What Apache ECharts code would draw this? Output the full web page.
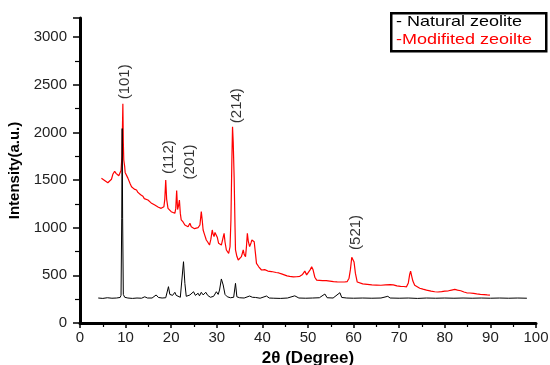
<!DOCTYPE html>
<html>
<head>
<meta charset="utf-8">
<script src="https://cdn.jsdelivr.net/npm/echarts@6/dist/echarts.min.js"></script>
<style>html,body{margin:0;padding:0;background:#fff}#c{width:550px;height:365px}</style>
</head>
<body>
<div id="c"></div>
<script>
// Natural zeolite (black)
const naturalAngle = [4.0,5.0,6.0,7.0,8.0,8.8,9.0,9.15,9.25,9.35,9.5,9.8,10.5,11.5,12.5,13.5,14.2,14.8,15.8,16.7,17.2,18.0,18.8,19.4,19.7,20.0,20.3,20.8,21.1,21.5,22.0,22.4,22.7,23.0,23.3,23.7,24.1,24.5,24.9,25.3,25.9,26.2,26.6,27.0,27.6,28.0,28.6,29.3,29.9,30.3,30.6,31.0,31.4,31.8,32.3,33.0,33.7,34.1,34.4,35.0,36.0,37.2,37.8,38.5,39.5,40.9,41.5,42.5,44.0,45.5,47.1,48.0,49.5,51.0,52.5,53.7,54.2,55.5,57.0,57.4,58.5,60.0,62.0,64.0,66.0,67.5,68.0,70.0,72.0,74.0,76.0,78.0,80.0,82.0,84.0,86.0,88.0,90.0,92.0,94.0,96.0,98.0];
const naturalIntensity = [262,258,265,260,262,268,290,1100,2040,1100,300,270,262,258,262,260,275,262,262,294,268,262,265,381,300,312,290,322,290,283,270,290,643,416,280,270,294,275,328,290,312,285,322,295,322,290,270,280,328,300,346,462,399,300,275,265,270,416,275,265,262,283,270,268,260,283,262,260,258,262,285,262,260,262,265,304,265,262,318,268,262,260,262,260,262,280,262,260,262,258,262,260,262,260,262,260,262,260,262,260,262,260];

// Modified zeolite (red)
const modifiedAngle = [4.7,5.0,5.4,5.7,6.1,6.4,6.9,7.2,7.6,7.9,8.2,8.5,8.8,9.0,9.2,9.4,9.5,9.6,9.8,9.9,10.2,10.5,10.8,11.0,11.3,11.6,11.9,12.2,12.4,12.7,13.0,13.3,13.5,13.8,14.1,14.5,14.9,15.2,15.6,16.0,16.4,16.8,17.2,17.5,17.8,18.1,18.4,18.6,18.8,19.0,19.3,19.6,20.0,20.4,20.8,21.0,21.2,21.4,21.6,21.8,22.0,22.2,22.6,23.0,23.4,23.7,24.1,24.4,24.8,25.1,25.5,25.9,26.3,26.6,26.8,27.0,27.3,27.7,28.0,28.4,28.7,29.0,29.2,29.4,29.6,29.9,30.1,30.4,30.7,31.0,31.3,31.6,31.8,32.1,32.6,32.9,33.1,33.3,33.45,33.6,33.8,34.0,34.1,34.4,34.7,35.0,35.4,35.8,36.0,36.3,36.5,36.7,36.9,37.2,37.5,37.7,38.0,38.2,38.5,38.7,39.2,39.8,40.5,41.2,42.0,42.4,43.0,43.6,44.2,44.8,45.4,46.0,46.8,47.5,48.2,48.8,49.3,49.7,50.1,50.5,50.8,51.1,51.5,51.9,52.5,53.2,54.0,54.8,55.6,56.4,57.2,58.0,58.6,59.0,59.3,59.6,59.8,60.1,60.4,60.8,61.2,62.0,63.0,64.0,65.0,66.0,67.0,68.0,68.7,69.5,70.3,71.0,71.6,72.0,72.3,72.5,72.7,73.0,73.4,73.8,74.5,75.2,76.0,77.0,77.8,78.5,79.3,80.0,80.8,81.5,82.2,82.8,83.5,84.2,84.8,85.5,86.3,87.0,87.8,88.6,89.3,89.9];
const modifiedIntensity = [1518,1505,1495,1480,1472,1490,1508,1560,1592,1570,1553,1545,1560,1600,1750,2300,1900,1710,1640,1580,1560,1520,1500,1460,1430,1440,1405,1410,1396,1370,1360,1345,1325,1330,1305,1300,1290,1275,1260,1255,1238,1225,1215,1205,1203,1190,1220,1300,1500,1300,1203,1190,1168,1160,1151,1200,1390,1190,1230,1290,1150,1081,1060,1028,1015,1010,1046,1010,994,990,994,1000,1028,1168,1080,976,930,871,850,818,880,976,930,906,950,958,900,836,820,818,880,941,850,766,731,800,1081,1700,2060,1900,1535,1000,766,700,661,680,696,766,720,696,800,941,860,801,840,871,880,853,720,626,590,556,560,545,540,546,530,525,515,505,495,490,484,485,490,510,545,505,520,560,590,560,480,450,448,445,445,440,435,432,430,430,435,470,560,690,700,640,520,430,415,410,405,400,398,396,400,402,400,390,385,383,380,420,510,545,500,440,395,380,365,355,345,335,328,325,330,335,338,345,352,345,338,325,317,315,310,305,300,298,295,293];

// Peak labels
const peakLabels = ['(101)','(112)','(201)','(214)','(521)'];
const peakLabelX = [9.9, 19.4, 24.1, 34.4, 60.5];
const peakLabelY = [2530, 1740, 1690, 2280, 950];

const xTicks = {min:0, max:100, interval:10};
const yTicks = {min:0, max:3200, interval:500};

function pairs(xs, ys){ return xs.map((x,i)=>[x, ys[i]]); }

const chart = echarts.init(document.getElementById('c'), null, {renderer:'canvas'});
const FONT = 'Liberation Sans, Arial, sans-serif';
chart.setOption({
  animation:false,
  backgroundColor:'#ffffff',
  grid:{left:80, right:14, top:18, bottom:42, containLabel:false, outerBoundsMode:'none'},
  xAxis:{
    type:'value', min:xTicks.min, max:xTicks.max, interval:xTicks.interval,
    name:'2θ (Degree)', nameLocation:'middle', nameGap:25,
    nameTextStyle:{fontFamily:FONT, fontSize:17, fontWeight:'bold', color:'#000'},
    axisLine:{show:true, onZero:false, lineStyle:{color:'#000', width:3}},
    axisTick:{show:true, length:5, lineStyle:{color:'#000', width:1.5}},
    minorTick:{show:true, splitNumber:2, length:4, lineStyle:{color:'#000', width:1.2}},
    axisLabel:{fontFamily:FONT, fontSize:15, color:'#222', margin:7, formatter:v=>String(v)},
    splitLine:{show:false}
  },
  yAxis:{
    type:'value', min:yTicks.min, max:yTicks.max, interval:yTicks.interval,
    name:'Intensity(a.u.)', nameLocation:'middle', nameGap:52, nameRotate:90,
    nameTextStyle:{fontFamily:FONT, fontSize:15, fontWeight:'bold', color:'#000'},
    axisLine:{show:true, onZero:false, lineStyle:{color:'#000', width:3}},
    axisTick:{show:true, length:7, lineStyle:{color:'#000', width:1.5}},
    minorTick:{show:true, splitNumber:2, length:5, lineStyle:{color:'#000', width:1.2}},
    axisLabel:{fontFamily:FONT, fontSize:15, color:'#222', margin:13, showMaxLabel:false, formatter:v=>String(v)},
    splitLine:{show:false}
  },
  series:[
    {type:'line', name:'Natural zeolite', data:pairs(naturalAngle, naturalIntensity),
      showSymbol:false, symbol:'none', lineStyle:{color:'#000', width:1}, z:3},
    {type:'line', name:'Modifited zeoilte', data:pairs(modifiedAngle, modifiedIntensity),
      showSymbol:false, symbol:'none', lineStyle:{color:'#ff0000', width:1.2}, z:2},
    {type:'scatter', symbolSize:0, silent:true,
      data:peakLabels.map((t,i)=>({name:t, value:[peakLabelX[i], peakLabelY[i]]})),
      label:{show:true, position:'inside', rotate:90, formatter:p=>p.name,
        fontFamily:FONT, fontSize:15, color:'#000'}, z:5}
  ],
  graphic:[
    {type:'rect', left:390, top:12, shape:{width:155, height:38},
      style:{fill:'#fff', stroke:'#000', lineWidth:2.5}, z:10},
    {type:'text', x:396, y:14, scaleX:1.2, z:11,
      style:{text:'- Natural zeolite', font:'15px '+FONT, fill:'#000'}},
    {type:'text', x:396, y:32, scaleX:1.2, z:11,
      style:{text:'-Modifited zeoilte', font:'15px '+FONT, fill:'#ff0000'}}
  ]
});
</script>
</body>
</html>
